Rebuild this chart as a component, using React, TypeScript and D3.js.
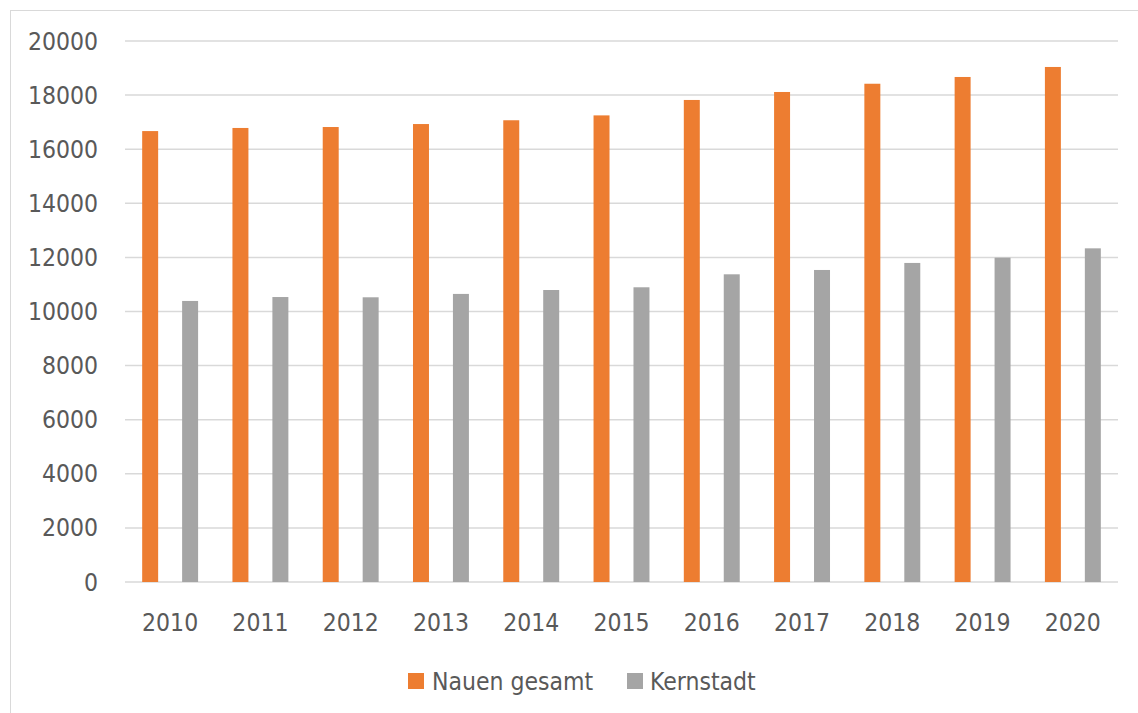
import React from "react";
import * as d3 from "d3";

const years = ["2010", "2011", "2012", "2013", "2014", "2015", "2016", "2017", "2018", "2019", "2020"];
const nauenGesamt = [16670, 16785, 16820, 16930, 17070, 17250, 17820, 18115, 18420, 18670, 19040];
const kernstadt = [10390, 10535, 10525, 10650, 10795, 10895, 11375, 11535, 11795, 11990, 12335];
const seriesNames = ["Nauen gesamt", "Kernstadt"];
const seriesColors = ["#ED7D31", "#A5A5A5"];
const yTicks = [0, 2000, 4000, 6000, 8000, 10000, 12000, 14000, 16000, 18000, 20000];

const W = 1138;
const H = 713;
const FONT = "'DejaVu Sans Condensed', 'DejaVu Sans', sans-serif";
const TEXT = "#595959";
const FS = 24.5;

const App = () => {
  const left = 125;
  const right = 1118;
  const top = 41;
  const bottom = 582;

  const x = d3.scaleBand().domain(years).range([left, right]).paddingInner(0).paddingOuter(0);
  const xInner = d3
    .scaleBand()
    .domain(seriesNames)
    .range([0, x.bandwidth()])
    .paddingInner(0.6)
    .paddingOuter(0.43);
  const y = d3.scaleLinear().domain([0, 20000]).range([bottom, top]);

  const series = [nauenGesamt, kernstadt];

  // legend layout
  const legendY = 681;

  return (
    <svg
      width={W}
      height={H}
      style={{ position: "absolute", left: 0, top: 0, background: "#fff" }}
    >
      <rect x={10.5} y={10.5} width={W + 20} height={H + 20} fill="#fff" stroke="#d9d9d9" strokeWidth={1} />

      {/* gridlines */}
      {yTicks.map((t) => (
        <line key={t} x1={left} x2={right} y1={y(t)} y2={y(t)} stroke="#d9d9d9" strokeWidth={1.5} />
      ))}

      {/* y tick labels */}
      {yTicks.map((t) => (
        <text
          key={"l" + t}
          x={98}
          y={y(t)}
          dy="0.35em"
          textAnchor="end"
          fontFamily={FONT}
          fontSize={FS}
          fill={TEXT}
        >
          {t}
        </text>
      ))}

      {/* bars */}
      {series.map((vals, si) =>
        vals.map((v, i) => (
          <rect
            key={si + "-" + i}
            x={(x(years[i]) ?? 0) + (xInner(seriesNames[si]) ?? 0)}
            y={y(v)}
            width={xInner.bandwidth()}
            height={y(0) - y(v)}
            fill={seriesColors[si]}
          />
        ))
      )}

      {/* x labels */}
      {years.map((yr) => (
        <text
          key={yr}
          x={(x(yr) ?? 0) + x.bandwidth() / 2}
          y={622}
          dy="0.35em"
          textAnchor="middle"
          fontFamily={FONT}
          fontSize={FS}
          fill={TEXT}
        >
          {yr}
        </text>
      ))}

      {/* legend */}
      <rect x={408} y={legendY - 8} width={16} height={16} fill={seriesColors[0]} />
      <text x={432} y={legendY} dy="0.35em" fontFamily={FONT} fontSize={FS} fill={TEXT}>
        {seriesNames[0]}
      </text>
      <rect x={627} y={legendY - 8} width={16} height={16} fill={seriesColors[1]} />
      <text x={650} y={legendY} dy="0.35em" fontFamily={FONT} fontSize={FS} fill={TEXT}>
        {seriesNames[1]}
      </text>
    </svg>
  );
};

export default App;
